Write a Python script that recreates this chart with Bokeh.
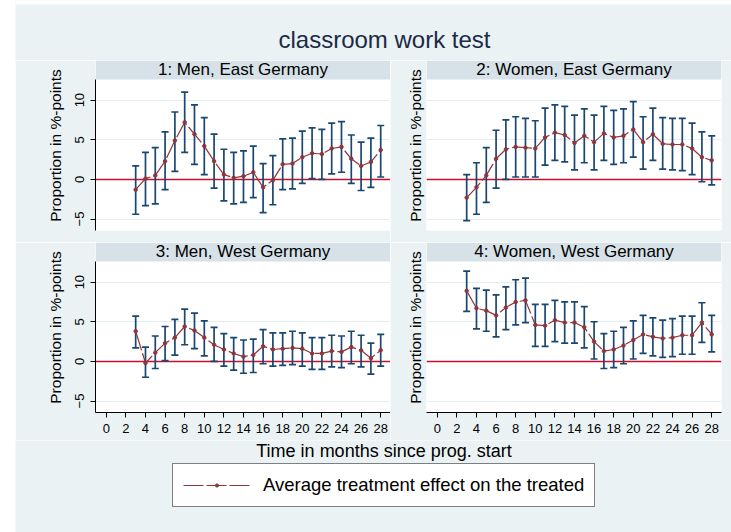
from bokeh.plotting import figure
from bokeh.layouts import column, row, Spacer
from bokeh.models import (Range1d, FixedTicker, Span, BoxAnnotation, Legend,
                          LegendItem, ColumnDataSource)
from bokeh.core.properties import value
from bokeh.embed import file_html
from bokeh.resources import INLINE

# ---------------- data ----------------
TITLE = "classroom work test"
X_TITLE = "Time in months since prog. start"
Y_TITLE = "Proportion in %-points"
LEGEND_LABEL = "Average treatment effect on the treated"
PANEL_TITLES = ["1: Men, East Germany", "2: Women, East Germany",
                "3: Men, West Germany", "4: Women, West Germany"]

months = [3, 4, 5, 6, 7, 8, 9, 10, 11, 12, 13, 14, 15, 16, 17, 18, 19, 20,
          21, 22, 23, 24, 25, 26, 27, 28]
X_TICKS = [0, 2, 4, 6, 8, 10, 12, 14, 16, 18, 20, 22, 24, 26, 28]
Y_TICKS = [-5, 0, 5, 10]

ate_1 = [-1.3, 0.1, 0.5, 2.3, 4.9, 7.2, 5.7, 4.2, 2.3, 0.6, 0.2, 0.4, 0.9,
         -1.0, -0.1, 1.9, 2.0, 2.8, 3.3, 3.2, 3.9, 4.1, 2.6, 1.7, 2.2, 3.7]
hi_1 = [1.7, 3.4, 4.0, 6.0, 8.5, 11.0, 9.4, 7.8, 5.7, 3.8, 3.4, 3.6, 4.2,
        2.0, 3.0, 5.1, 5.2, 6.1, 6.5, 6.3, 7.1, 7.3, 5.6, 4.7, 5.2, 6.8]
lo_1 = [-4.4, -3.3, -3.1, -1.3, 1.0, 3.4, 1.9, 0.6, -1.1, -2.7, -3.1, -2.9, -2.3,
        -4.2, -3.2, -1.3, -1.2, -0.5, 0.1, 0.0, 0.7, 0.9, -0.5, -1.4, -1.0, 0.3]

ate_2 = [-2.3, -1.0, 0.5, 2.6, 3.8, 4.1, 4.0, 3.9, 5.3, 5.9, 5.6, 4.6, 5.5,
         4.7, 5.8, 5.3, 5.5, 6.3, 4.7, 5.7, 4.5, 4.4, 4.4, 3.9, 2.8, 2.4]
hi_2 = [0.6, 2.1, 4.0, 6.2, 7.5, 7.9, 7.7, 7.4, 9.0, 9.4, 9.2, 8.1, 8.9,
        8.1, 9.2, 8.7, 8.9, 9.8, 7.9, 9.0, 7.8, 7.7, 7.7, 7.1, 6.0, 5.5]
lo_2 = [-5.2, -4.4, -2.9, -1.1, 0.0, 0.3, 0.3, 0.3, 1.8, 2.4, 2.2, 1.2, 2.1,
        1.2, 2.4, 1.9, 2.1, 2.8, 1.3, 2.4, 1.3, 1.2, 1.1, 0.6, -0.3, -0.7]

ate_3 = [3.8, -0.2, 1.1, 2.3, 3.0, 4.4, 3.9, 3.0, 2.1, 1.5, 1.0, 0.6, 0.8,
         1.9, 1.5, 1.6, 1.7, 1.6, 1.0, 1.0, 1.3, 1.2, 1.8, 1.4, 0.4, 1.4]
hi_3 = [5.7, 1.8, 3.2, 4.4, 5.3, 6.6, 6.1, 5.1, 4.3, 3.5, 3.0, 2.7, 2.8,
        4.0, 3.6, 3.6, 3.8, 3.6, 3.0, 3.0, 3.3, 3.2, 3.8, 3.3, 2.3, 3.4]
lo_3 = [1.7, -2.0, -0.9, 0.1, 0.8, 2.1, 1.6, 0.7, 0.0, -0.6, -1.1, -1.5, -1.4,
        -0.3, -0.6, -0.5, -0.4, -0.6, -1.0, -1.0, -0.7, -0.8, -0.3, -0.7, -1.6, -0.6]

ate_4 = [8.9, 6.7, 6.4, 5.8, 6.8, 7.5, 7.7, 4.6, 4.5, 5.2, 4.9, 4.9, 4.3,
         2.5, 1.3, 1.5, 2.0, 2.7, 3.4, 3.1, 2.9, 3.0, 3.3, 3.3, 4.9, 3.4]
hi_4 = [11.4, 9.2, 9.0, 8.4, 9.4, 10.3, 10.5, 7.2, 7.2, 7.7, 7.5, 7.5, 6.9,
        5.0, 3.5, 3.8, 4.3, 5.1, 5.8, 5.5, 5.2, 5.4, 5.7, 5.7, 7.4, 5.8]
lo_4 = [6.3, 4.1, 3.8, 3.1, 4.0, 4.6, 4.9, 1.9, 1.9, 2.5, 2.3, 2.3, 1.7,
        0.3, -0.9, -0.8, -0.3, 0.3, 1.0, 0.7, 0.5, 0.6, 0.9, 0.9, 2.4, 1.2]

# ---------------- style ----------------
FONT = "Liberation Sans"
BG = "#EAF2F3"
STRIP = "#D6E2E7"
NAVY = "#1A476F"
MAROON = "#90353B"
ZERO = "#C8102E"
GRIDC = "#E4EEF0"
X0, X1 = -1.1, 29.0
Y0, Y1, YT = -6.45, 12.6, 15.0
MAIN_W = 716


def panel(title, ate, lo, hi, left_axis, bottom_axis):
    p = figure(width=375 if left_axis else 341,
               height=198 if bottom_axis else 182,
               x_range=Range1d(X0, X1), y_range=Range1d(Y0, YT),
               x_axis_location="below" if bottom_axis else None,
               y_axis_location="left",
               min_border_left=80 if left_axis else 36,
               min_border_right=0 if left_axis else 10,
               min_border_top=0,
               min_border_bottom=28 if bottom_axis else 12,
               output_backend="svg", toolbar_location=None)
    p.background_fill_color = "white"
    p.border_fill_color = BG
    p.outline_line_color = None
    p.xgrid.visible = False

    ya = p.yaxis[0]
    ya.axis_label = Y_TITLE
    ya.axis_label_text_font = FONT
    ya.axis_label_text_font_size = "15.5px"
    ya.axis_label_text_font_style = "normal"
    ya.axis_label_text_color = "black"
    ya.minor_tick_line_color = None
    ya.minor_tick_out = 0
    ya.major_tick_in = 0
    if left_axis:
        ya.ticker = FixedTicker(ticks=Y_TICKS)
        ya.bounds = (Y0, Y1)
        ya.major_tick_out = 5
        ya.major_label_orientation = "vertical"
        ya.major_label_text_font = FONT
        ya.major_label_text_font_size = "13px"
        ya.major_label_text_color = "black"
        ya.major_label_standoff = 6
        ya.axis_label_standoff = 9
        ya.axis_line_color = "black"
        ya.major_tick_line_color = "black"
    else:
        ya.ticker = FixedTicker(ticks=[])
        ya.axis_line_color = None
        ya.major_tick_out = 0
        ya.major_tick_line_color = None
        ya.major_label_text_font_size = "0px"
        ya.major_label_standoff = 0
        ya.axis_label_standoff = 3
    p.ygrid.ticker = FixedTicker(ticks=Y_TICKS)
    p.ygrid.grid_line_color = GRIDC
    p.ygrid.grid_line_width = 1

    if bottom_axis:
        xa = p.xaxis[0]
        xa.ticker = FixedTicker(ticks=X_TICKS)
        xa.major_tick_out = 5
        xa.major_tick_in = 0
        xa.minor_tick_line_color = None
        xa.major_label_text_font = FONT
        xa.major_label_text_font_size = "13px"
        xa.major_label_text_color = "black"
        xa.major_label_standoff = 6
        xa.axis_line_color = "black"
        xa.major_tick_line_color = "black"

    p.add_layout(BoxAnnotation(bottom=Y1, fill_color=STRIP, fill_alpha=1,
                               line_color=None, level="underlay"))
    p.text(x=[(X0 + X1) / 2], y=[(Y1 + YT) / 2 + 0.05], text=[title],
           text_font=value(FONT), text_font_size="17px", text_color="black",
           text_align="center", text_baseline="middle")
    p.add_layout(Span(location=0, dimension="width", line_color=ZERO,
                      line_width=1.5, level="underlay"))

    src = ColumnDataSource(dict(x=months, ate=ate, lo=lo, hi=hi))
    p.segment(x0="x", y0="lo", x1="x", y1="hi", source=src,
              line_color=NAVY, line_width=1.7)
    p.scatter(x="x", y="hi", source=src, marker="dash", size=7,
              line_color=NAVY, line_width=1.7)
    p.scatter(x="x", y="lo", source=src, marker="dash", size=7,
              line_color=NAVY, line_width=1.7)
    p.line(x="x", y="ate", source=src, line_color=MAROON, line_width=1.2,
           line_dash="20 3")
    p.scatter(x="x", y="ate", source=src, marker="circle", size=3.5,
              fill_color=MAROON, line_color=MAROON)
    return p


def blank(h):
    f = figure(width=MAIN_W, height=h, x_range=Range1d(0, MAIN_W),
               y_range=Range1d(h, 0), x_axis_location=None,
               y_axis_location=None, min_border=0,
               output_backend="svg", toolbar_location=None)
    f.background_fill_color = BG
    f.border_fill_color = BG
    f.outline_line_color = None
    f.xgrid.visible = False
    f.ygrid.visible = False
    return f


top = blank(60)
top.add_layout(BoxAnnotation(top=0, bottom=4, fill_color="white", fill_alpha=1,
                             line_color=None))
top.text(x=[369], y=[39], text=[TITLE], text_font=value(FONT),
         text_font_size="24px", text_color="#1C2A48",
         text_align="center", text_baseline="middle")

p1 = panel(PANEL_TITLES[0], ate_1, lo_1, hi_1, True, False)
p2 = panel(PANEL_TITLES[1], ate_2, lo_2, hi_2, False, False)
p3 = panel(PANEL_TITLES[2], ate_3, lo_3, hi_3, True, True)
p4 = panel(PANEL_TITLES[3], ate_4, lo_4, hi_4, False, True)

bot = blank(92)
bot.text(x=[368.5], y=[10], text=[X_TITLE], text_font=value(FONT),
         text_font_size="18px", text_color="black",
         text_align="center", text_baseline="middle")
# legend proxy glyphs: one point each, placed far outside the visible range
OFF = -10 * MAIN_W
lr = bot.line(x=[OFF], y=[OFF], line_color=MAROON, line_width=1.2,
              line_dash="20 3")
sr = bot.scatter(x=[OFF], y=[OFF], marker="circle", size=3.5,
                 fill_color=MAROON, line_color=MAROON)
leg = Legend(items=[LegendItem(label=LEGEND_LABEL, renderers=[lr, sr])],
             location=(157, 25), orientation="vertical",
             border_line_color="black", border_line_width=1,
             background_fill_color="white", background_fill_alpha=1,
             label_text_font=FONT, label_text_font_size="18.5px",
             label_text_color="black",
             glyph_width=67, glyph_height=8, label_height=21,
             label_standoff=13, padding=10, margin=0, spacing=0)
bot.add_layout(leg)

main = column(top, row(p1, p2), row(p3, p4), bot)
layout = row(Spacer(width=15, height=532), main)

html = file_html(layout, INLINE, title="classroom work test")
open("out.html", "w").write(html)
